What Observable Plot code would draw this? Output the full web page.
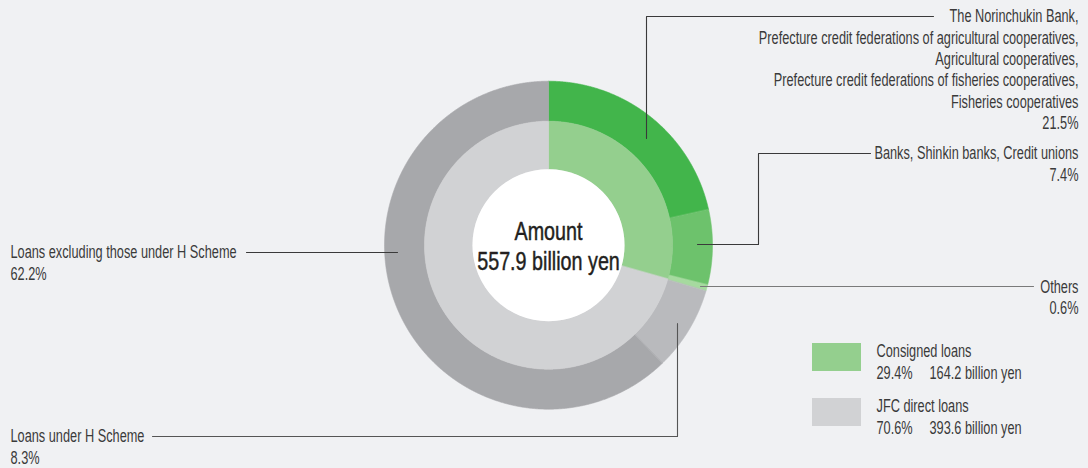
<!DOCTYPE html>
<html>
<head>
<meta charset="utf-8">
<script src="https://cdn.jsdelivr.net/npm/d3@7"></script>
<script src="https://cdn.jsdelivr.net/npm/@observablehq/plot@0.6"></script>
<style>
  html, body { margin: 0; padding: 0; background: #f0f1f3; }
  #chart { width: 1088px; height: 468px; }
</style>
</head>
<body>
<div id="chart"></div>
<script>
// ---------- DATA ----------
const outerNames = [
  "The Norinchukin Bank,\nPrefecture credit federations of agricultural cooperatives,\nAgricultural cooperatives,\nPrefecture credit federations of fisheries cooperatives,\nFisheries cooperatives",
  "Banks, Shinkin banks, Credit unions",
  "Others",
  "Loans under H Scheme",
  "Loans excluding those under H Scheme"
];
const outerValues = [21.5, 7.4, 0.6, 8.3, 62.2];
const innerNames = ["Consigned loans", "JFC direct loans"];
const innerValues = [29.4, 70.6];
const innerAmounts = [164.2, 393.6];
const totalAmount = 557.9;
const centerTitle = "Amount";
const unit = "billion yen";

// ---------- STYLE / LAYOUT ----------
const outerColors = ["#42b54b", "#6dc26c", "#a6da9f", "#b9babd", "#a7a8ab"];
const innerColors = ["#94cf8e", "#d1d2d4"];
const cx = 548, cy = 244.7;
const rOuter = 164, rMid = 124, rHole = 76;
const font = "'Liberation Sans', Arial, sans-serif";
const textColor = "#3a3a3a";
const fs = 18.5, fsCenter = 25;
const squeeze = 0.69, squeezeCenter = 0.79;
const lineH = 21.3;

// label layout: anchor x, first-line y, text anchor, leader polyline, leader colour
const labelLayout = [
  {x: 1078, y: 16,  anchor: "end",   path: [[933,16],[646,16],[646,138]], stroke: "#3a3a3a"},
  {x: 1078, y: 153, anchor: "end",   path: [[870,153],[758,153],[758,244],[697,244]], stroke: "#3a3a3a"},
  {x: 1078, y: 286.5, anchor: "end", path: [[1033,286],[700,286]], stroke: "#7a7a7a"},
  {x: 10,   y: 436, anchor: "start", path: [[152,436],[677,436],[677,323]], stroke: "#555555"},
  {x: 10,   y: 252, anchor: "start", path: [[246,252],[397,252]], stroke: "#3a3a3a"}
];
const legendLayout = {x1: 812, x2: 861, y: [343, 398], h: 28, tx: 876, tx2: 929};

// ---------- GEOMETRY from values ----------
function arcPoly(a0, a1, r0, r1, key) {
  const n = Math.max(2, Math.ceil((a1 - a0) * 1440) + 1);
  const pts = [];
  for (let i = 0; i < n; i++) {
    const t = a0 + (a1 - a0) * i / (n - 1);
    pts.push({key, x: cx + r1 * Math.sin(2 * Math.PI * t), y: cy - r1 * Math.cos(2 * Math.PI * t)});
  }
  for (let i = n - 1; i >= 0; i--) {
    const t = a0 + (a1 - a0) * i / (n - 1);
    pts.push({key, x: cx + r0 * Math.sin(2 * Math.PI * t), y: cy - r0 * Math.cos(2 * Math.PI * t)});
  }
  return pts;
}
function ring(values, r0, r1, colors) {
  const tot = d3.sum(values);
  let acc = 0;
  return values.map((v, i) => {
    const a0 = acc / tot; acc += v; const a1 = acc / tot;
    return Plot.line(arcPoly(a0, a1, r0, r1, i), {
      x: "x", y: "y", curve: "linear-closed",
      fill: colors[i], stroke: colors[i], strokeWidth: 0.6
    });
  });
}

const marks = [];
marks.push(...ring(outerValues, rMid, rOuter, outerColors));
marks.push(...ring(innerValues, rHole, rMid, innerColors));
marks.push(Plot.dot([{x: cx, y: cy}], {x: "x", y: "y", r: rHole, fill: "white", stroke: "none"}));

// center text
marks.push(Plot.text([centerTitle, `${totalAmount.toFixed(1)} ${unit}`], {
  x: () => cx, y: (d, i) => cy - 13.5 + i * 30, text: d => d,
  fontSize: fsCenter, fill: "#231f20", stroke: "#231f20", strokeWidth: 0.45,
  fontFamily: font, textAnchor: "middle"
}));

// leader lines + labels
outerNames.forEach((name, i) => {
  const L = labelLayout[i];
  marks.push(Plot.line(L.path.map(([x, y]) => ({x, y})), {x: "x", y: "y", stroke: L.stroke, strokeWidth: 1.1}));
  const lines = (name + "\n" + outerValues[i].toFixed(1) + "%").split("\n");
  marks.push(Plot.text(lines, {
    x: () => L.x, y: (d, j) => L.y + j * lineH, text: d => d,
    textAnchor: L.anchor, fontSize: fs, fill: textColor, fontFamily: font
  }));
});

// legend
innerNames.forEach((name, i) => {
  const y0 = legendLayout.y[i];
  marks.push(Plot.rect([0], {x1: () => legendLayout.x1, x2: () => legendLayout.x2, y1: () => y0, y2: () => y0 + legendLayout.h, fill: innerColors[i]}));
  marks.push(Plot.text([name], {x: () => legendLayout.tx, y: () => y0 + 8, text: d => d, textAnchor: "start", fontSize: fs, fill: textColor, fontFamily: font}));
  marks.push(Plot.text([innerValues[i].toFixed(1) + "%"], {x: () => legendLayout.tx, y: () => y0 + 30, text: d => d, textAnchor: "start", fontSize: fs, fill: textColor, fontFamily: font}));
  marks.push(Plot.text([innerAmounts[i].toFixed(1) + " " + unit], {x: () => legendLayout.tx2, y: () => y0 + 30, text: d => d, textAnchor: "start", fontSize: fs, fill: textColor, fontFamily: font}));
});

const chart = Plot.plot({
  width: 1088, height: 468,
  margin: 0,
  x: {domain: [0, 1088], range: [0, 1088], axis: null},
  y: {domain: [0, 468], range: [0, 468], axis: null},
  style: {background: "transparent", fontFamily: font},
  marks
});

// condense the text horizontally (no condensed font is installed)
chart.querySelectorAll("text").forEach(t => {
  const g = t.closest("g");
  const size = +(g && g.getAttribute("font-size")) || fs;
  const k = size >= fsCenter ? squeezeCenter : squeeze;
  let tr = t.getAttribute("transform");
  if (!tr) {
    const x = +t.getAttribute("x") || 0, y = +t.getAttribute("y") || 0;
    t.removeAttribute("x"); t.removeAttribute("y");
    tr = `translate(${x},${y})`;
  }
  t.setAttribute("transform", `${tr} scale(${k},1)`);
});
document.getElementById("chart").append(chart);
</script>
</body>
</html>
